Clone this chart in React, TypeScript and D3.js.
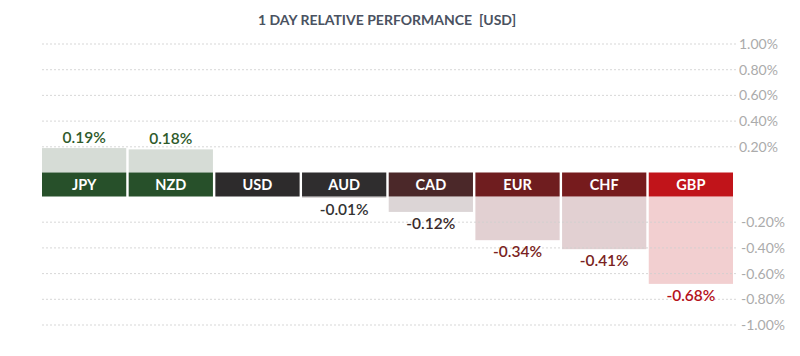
import React from "react";
import * as d3 from "d3";

const currencies = ["JPY", "NZD", "USD", "AUD", "CAD", "EUR", "CHF", "GBP"];
const changes = [0.19, 0.18, 0, -0.01, -0.12, -0.34, -0.41, -0.68];
const bandColors = ["#27502a", "#27502a", "#2d2b2c", "#2f2d2e", "#4b2829", "#6f1d1f", "#761b1d", "#c1141a"];
const barColors = ["#d6dcd6", "#d6dcd6", "#dcdcdc", "#d9d5d5", "#dcd5d6", "#e2d0d2", "#e2d0d2", "#f2cfd0"];
const valueColors = ["#2e5a2a", "#2e5a2a", "#333333", "#333333", "#3a2a2a", "#7a1f22", "#7a1f22", "#b5121b"];
const posTicks = [0.2, 0.4, 0.6, 0.8, 1.0];
const negTicks = [-0.2, -0.4, -0.6, -0.8, -1.0];
const title = "1 DAY RELATIVE PERFORMANCE  [USD]";

const W = 800;
const H = 356;
const font = "Lato, 'Open Sans', sans-serif";

export default function App() {
  const x = d3.scaleBand<string>().domain(currencies).range([42, 733]).paddingInner(0.028);
  const yPos = d3.scaleLinear().domain([0, 1]).range([172.5, 44]);
  const yNeg = d3.scaleLinear().domain([0, -1]).range([196.5, 325]);
  const fmt = (v: number) => d3.format(".2f")(v).replace("\u2212", "-") + "%";
  const gridX0 = 42;
  const gridX1 = 737;

  return (
    <svg width={W} height={H} style={{ position: "absolute", left: 0, top: 0, background: "#fff" }}>
      <text x={387} y={25} textAnchor="middle" fontFamily={font} fontWeight={700} fontSize={14} fill="#4a5261">
        {title.replace("  ", "\u00a0 ")}
      </text>

      {currencies.map((c, i) => {
        const v = changes[i];
        const x0 = x(c) as number;
        const bw = x.bandwidth();
        if (v > 0) {
          return (
            <rect key={"b" + c} x={x0} y={yPos(v)} width={bw} height={yPos(0) - yPos(v)} fill={barColors[i]} />
          );
        } else if (v < 0) {
          return (
            <rect key={"b" + c} x={x0} y={yNeg(0)} width={bw} height={Math.max(1.5, yNeg(v) - yNeg(0))} fill={barColors[i]} />
          );
        }
        return null;
      })}

      {posTicks.map((t) => (
        <g key={"p" + t}>
          <line x1={gridX0} x2={gridX1} y1={yPos(t)} y2={yPos(t)} stroke="#cfcfcf" strokeWidth={1} strokeDasharray="2,2" opacity={0.8} />
          <text x={739} y={yPos(t)} dy="0.35em" fontFamily={font} fontWeight={400} fontSize={14} fill="#ababab">{fmt(t)}</text>
        </g>
      ))}
      {negTicks.map((t) => (
        <g key={"n" + t}>
          <line x1={gridX0} x2={gridX1} y1={yNeg(t)} y2={yNeg(t)} stroke="#cfcfcf" strokeWidth={1} strokeDasharray="2,2" opacity={0.8} />
          <text x={741} y={yNeg(t)} dy="0.35em" fontFamily={font} fontWeight={400} fontSize={14} fill="#ababab">{fmt(t)}</text>
        </g>
      ))}

      {currencies.map((c, i) => {
        const x0 = x(c) as number;
        const bw = x.bandwidth();
        return (
          <g key={"l" + c}>
            <rect x={x0} y={yPos(0)} width={bw} height={yNeg(0) - yPos(0)} fill={bandColors[i]} />
            <text x={x0 + bw / 2} y={(yPos(0) + yNeg(0)) / 2} dy="0.36em" textAnchor="middle" fontFamily={font} fontWeight={700} fontSize={14.5} fill="#ffffff">
              {c}
            </text>
          </g>
        );
      })}

      {currencies.map((c, i) => {
        const v = changes[i];
        if (v === 0) return null;
        const x0 = x(c) as number;
        const bw = x.bandwidth();
        const y = v > 0 ? yPos(v) - 11 : yNeg(v) + 11.5;
        return (
          <text key={"v" + c} x={x0 + bw / 2} y={y} dy="0.35em" textAnchor="middle" fontFamily={font} fontWeight={600} fontSize={15.5} fill={valueColors[i]}>
            {fmt(v)}
          </text>
        );
      })}
    </svg>
  );
}
